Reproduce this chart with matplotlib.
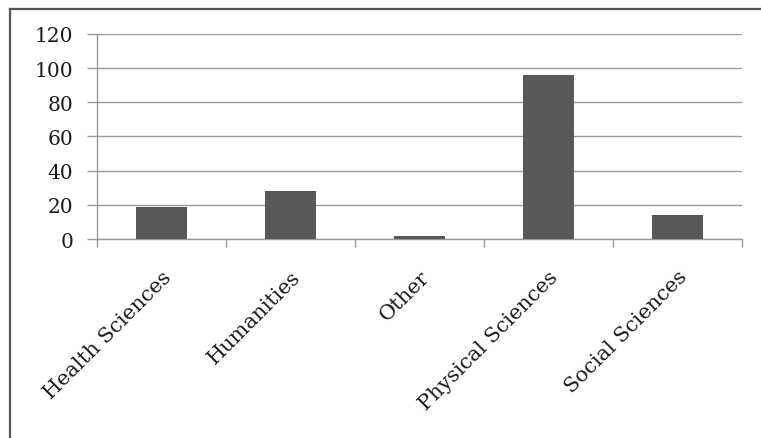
import matplotlib
matplotlib.use("Agg")
import matplotlib.pyplot as plt
from matplotlib.lines import Line2D
import numpy as np

categories = ["Health Sciences", "Humanities", "Other", "Physical Sciences", "Social Sciences"]
values = [19, 28, 2, 96, 14]
y_ticks = [0, 20, 40, 60, 80, 100, 120]

plt.rcParams["font.family"] = ["DejaVu Serif"]

fig = plt.figure(figsize=(7.61, 4.39), dpi=100)
ax = fig.add_axes([0.1275, 0.4533, 0.8475, 0.467])

x = np.arange(len(categories))
ax.bar(x, values, width=0.4, color="#595959", zorder=3)

ax.set_xlim(-0.5, len(categories) - 0.5)
ax.set_ylim(0, 120)
ax.set_yticks(y_ticks)
ax.set_yticklabels([str(v) for v in y_ticks], fontsize=14.5, color="#1a1a1a")

# category labels centred under bars, ticks at category boundaries
ax.set_xticks(x)
ax.set_xticklabels(categories, rotation=45, ha="right", rotation_mode="anchor",
                   fontsize=15, color="#1a1a1a")
ax.tick_params(axis="x", length=0, pad=20)
ax.set_xticks(np.arange(-0.5, len(categories), 1.0), minor=True)
ax.tick_params(axis="x", which="minor", length=6, color="#999999", width=1)
ax.tick_params(axis="y", length=7, color="#999999", width=1, pad=10)

ax.grid(axis="y", color="#9a9a9a", linewidth=1.0, zorder=0)
for side in ("top", "right"):
    ax.spines[side].set_visible(False)
for side in ("left", "bottom"):
    ax.spines[side].set_color("#999999")
    ax.spines[side].set_linewidth(1.0)

# frame lines along top and left edges of the chart area
fig.add_artist(Line2D([10 / 761, 10 / 761], [0, 1 - 10 / 439], transform=fig.transFigure,
                      color="#555555", linewidth=1.6))
fig.add_artist(Line2D([10 / 761, 1], [1 - 10 / 439, 1 - 10 / 439], transform=fig.transFigure,
                      color="#555555", linewidth=1.6))

fig.savefig("out.png", dpi=100)
